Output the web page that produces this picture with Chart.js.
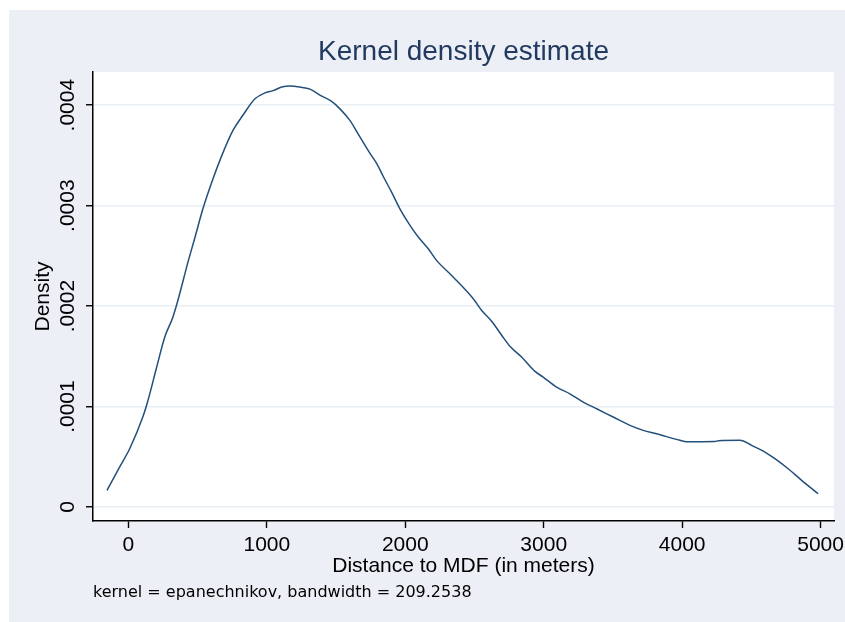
<!DOCTYPE html>
<html>
<head>
<meta charset="utf-8">
<title>Kernel density estimate</title>
<script src="https://cdn.jsdelivr.net/npm/chart.js@4.4.1/dist/chart.umd.min.js"></script>
<style>
  html, body { margin: 0; padding: 0; background: #fff; }
  #wrap { position: absolute; left: 0; top: 0; width: 845px; height: 622px; }
</style>
</head>
<body>
<div id="wrap"><canvas id="kde" width="845" height="622"></canvas></div>
<script>
// distance to MDF (meters) and the estimated density
var distance = [-155, -64, 9, 105, 141, 201, 262, 321, 358, 430, 478, 538, 611, 670, 755, 827,
  914, 986, 1046, 1107, 1170, 1239, 1311, 1383, 1468, 1528, 1600, 1648, 1745, 1793, 1841, 1901,
  1961, 2034, 2094, 2166, 2226, 2346, 2491, 2552, 2624, 2696, 2756, 2840, 2937, 2996, 3093, 3189,
  3285, 3382, 3502, 3623, 3719, 3816, 3984, 4032, 4237, 4261, 4417, 4502, 4598, 4670, 4766, 4863, 4983];
var density = [0.166e-4, 0.398e-4, 0.58e-4, 0.9e-4, 1.06e-4, 1.376e-4, 1.69e-4, 1.89e-4, 2.06e-4,
  2.438e-4, 2.67e-4, 2.968e-4, 3.267e-4, 3.483e-4, 3.748e-4, 3.9e-4,
  4.063e-4, 4.122e-4, 4.145e-4, 4.18e-4, 4.19e-4, 4.18e-4, 4.16e-4, 4.1e-4, 4.037e-4, 3.963e-4,
  3.848e-4, 3.74e-4, 3.52e-4, 3.42e-4, 3.29e-4, 3.134e-4,
  2.968e-4, 2.803e-4, 2.687e-4, 2.57e-4, 2.455e-4, 2.289e-4, 2.073e-4, 1.957e-4, 1.85e-4, 1.71e-4,
  1.6e-4, 1.493e-4, 1.35e-4, 1.294e-4, 1.194e-4, 1.127e-4,
  1.045e-4, 0.978e-4, 0.896e-4, 0.813e-4, 0.763e-4, 0.729e-4, 0.664e-4, 0.65e-4, 0.652e-4, 0.66e-4,
  0.664e-4, 0.614e-4, 0.547e-4, 0.481e-4, 0.381e-4, 0.266e-4, 0.132e-4];

var xTicks = [0, 1000, 2000, 3000, 4000, 5000];
var yTicks = [0, 0.0001, 0.0002, 0.0003, 0.0004];
var yTickLabels = ['0', '.0001', '.0002', '.0003', '.0004'];

var points = distance.map(function (d, i) { return { x: d, y: density[i] }; });

var bgPlugin = {
  id: 'stataBg',
  beforeDraw: function (chart) {
    var c = chart.ctx, a = chart.chartArea;
    c.save();
    c.fillStyle = '#ffffff';
    c.fillRect(0, 0, chart.width, chart.height);
    c.fillStyle = '#ecf0f6';
    c.fillRect(9, 10, chart.width - 9, chart.height - 10);
    c.fillStyle = '#ffffff';
    c.fillRect(a.left, a.top, a.right - a.left, a.bottom - a.top);
    c.restore();
  }
};

var txt = "'Liberation Sans', Arial, sans-serif";

var config = {
  type: 'line',
  data: {
    datasets: [{
      data: points,
      borderColor: '#23507b',
      borderWidth: 1.5,
      pointRadius: 0,
      fill: false,
      cubicInterpolationMode: 'monotone'
    }]
  },
  options: {
    responsive: false,
    animation: false,
    devicePixelRatio: 1,
    layout: { padding: { left: 9, top: 10, right: 11, bottom: 19.2 } },
    plugins: {
      legend: { display: false },
      tooltip: { enabled: false },
      title: {
        display: true,
        text: 'Kernel density estimate',
        fullSize: false,
        color: '#233a60',
        font: { family: txt, size: 28, weight: 'normal' },
        padding: { top: 25.2, bottom: 3.2 }
      },
      subtitle: {
        display: true,
        text: 'kernel = epanechnikov, bandwidth = 209.2538',
        position: 'bottom',
        align: 'start',
        fullSize: false,
        color: '#000000',
        font: { family: "'DejaVu Sans', sans-serif", size: 16, weight: 'normal' },
        padding: { top: 5, bottom: 0 }
      }
    },
    scales: {
      x: {
        type: 'linear',
        min: -256,
        max: 5097,
        afterBuildTicks: function (s) { s.ticks = xTicks.map(function (v) { return { value: v }; }); },
        afterFit: function (s) { s.height = 57.6; s.paddingLeft = 0; s.paddingRight = 0; },
        grid: { drawOnChartArea: false, drawTicks: true, tickLength: 7, tickColor: '#000', tickWidth: 1.4 },
        border: { display: true, color: '#000', width: 1.5 },
        ticks: {
          autoSkip: false, maxRotation: 0, color: '#000', padding: 5,
          font: { family: txt, size: 21 },
          callback: function (v) { return String(v); }
        },
        title: {
          display: true, text: 'Distance to MDF (in meters)', color: '#000',
          font: { family: txt, size: 21 }, padding: { top: 0, bottom: 0 }
        }
      },
      y: {
        type: 'linear',
        min: -0.0000139,
        max: 0.000433,
        afterBuildTicks: function (s) { s.ticks = yTicks.map(function (v) { return { value: v }; }); },
        afterFit: function (s) { s.width = 84; s.paddingTop = 0; s.paddingBottom = 0; },
        grid: { color: '#e9eff4', lineWidth: 1.5, drawTicks: true, tickLength: 7, tickColor: '#000', tickWidth: 1.4 },
        border: { display: true, color: '#000', width: 1.5 },
        ticks: {
          minRotation: 90, maxRotation: 90, crossAlign: 'center', padding: -8,
          color: '#000', font: { family: txt, size: 21 },
          callback: function (v, i) { return yTickLabels[i]; }
        },
        title: {
          display: true, text: 'Density', color: '#000',
          font: { family: txt, size: 21 }, padding: { top: 22, bottom: 0 }
        }
      }
    }
  },
  plugins: [bgPlugin]
};

window.onload = function () {
  var ctx = document.getElementById('kde').getContext('2d');
  window.kdeChart = new Chart(ctx, config);
};
</script>
</body>
</html>
